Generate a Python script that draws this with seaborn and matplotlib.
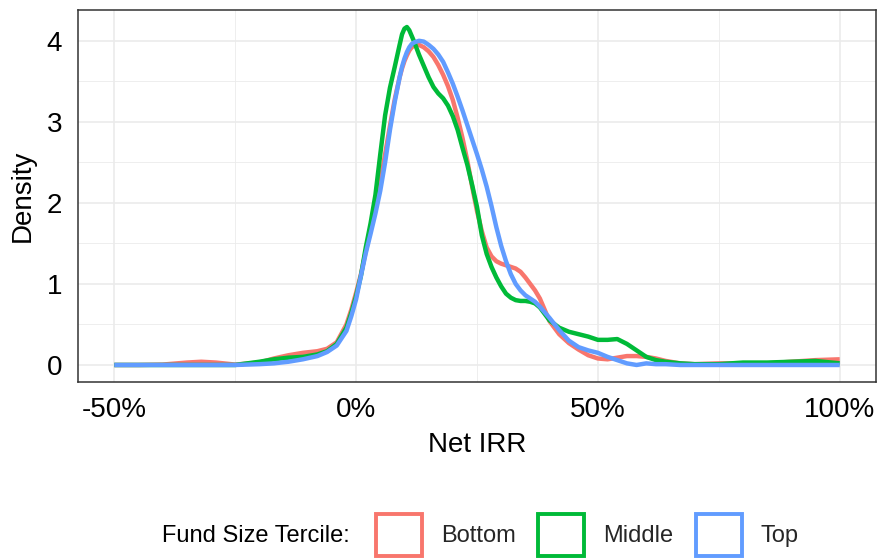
import numpy as np
import pandas as pd
import matplotlib
matplotlib.use("Agg")
import matplotlib.pyplot as plt
import seaborn as sns
from matplotlib.patches import Patch
from matplotlib.ticker import FuncFormatter, MultipleLocator

# ---- data ----
net_irr = [-50, -45, -40, -35, -32, -29, -25, -20, -17, -14, -11, -8, -6, -4, -2, -1,
           0, 1, 2, 3, 4, 5, 6, 7, 8, 9, 9.5, 10, 10.5, 11, 11.5, 12, 13, 14, 15, 16, 17, 18, 19,
           20, 21, 22, 23, 24, 25, 26, 27, 28, 29, 30, 31, 32, 33, 34, 35, 36, 37, 38, 39,
           40, 42, 44, 46, 48, 50, 52, 54, 56, 58, 60, 62, 64, 67, 70, 75, 80, 85, 90, 95, 100]

density_bottom = [0, 0, 0.005, 0.03, 0.04, 0.03, 0.005, 0.03, 0.08, 0.12, 0.15, 0.17, 0.2, 0.28, 0.5, 0.68,
                  0.89, 1.12, 1.4, 1.68, 1.95, 2.25, 2.6, 2.95, 3.28, 3.55, 3.66, 3.75, 3.82, 3.88, 3.92, 3.94, 3.95, 3.92, 3.87, 3.8, 3.7, 3.58, 3.44,
                  3.27, 3.05, 2.8, 2.52, 2.2, 1.9, 1.65, 1.45, 1.34, 1.28, 1.25, 1.23, 1.21, 1.19, 1.15, 1.08, 1.0, 0.92, 0.82, 0.68,
                  0.54, 0.38, 0.27, 0.19, 0.12, 0.08, 0.07, 0.09, 0.11, 0.11, 0.1, 0.08, 0.05, 0.02, 0.01, 0.02, 0.02, 0.02, 0.04, 0.06, 0.07]

density_middle = [0, 0, 0, 0, 0, 0, 0, 0.04, 0.07, 0.09, 0.1, 0.13, 0.17, 0.26, 0.46, 0.64,
                  0.85, 1.1, 1.45, 1.75, 2.1, 2.6, 3.08, 3.42, 3.68, 3.95, 4.08, 4.15, 4.17, 4.13, 4.06, 3.99, 3.83, 3.69, 3.55, 3.43, 3.35, 3.29, 3.2,
                  3.07, 2.9, 2.68, 2.47, 2.22, 1.95, 1.6, 1.37, 1.21, 1.08, 0.97, 0.88, 0.83, 0.8, 0.79, 0.79, 0.78, 0.76, 0.71, 0.63,
                  0.55, 0.46, 0.41, 0.38, 0.35, 0.31, 0.31, 0.32, 0.26, 0.18, 0.1, 0.06, 0.04, 0.02, 0.01, 0.01, 0.03, 0.03, 0.04, 0.05, 0.02]

density_top = [0, 0, 0, 0, 0, 0, 0, 0.01, 0.02, 0.04, 0.07, 0.11, 0.16, 0.24, 0.42, 0.6,
               0.81, 1.1, 1.38, 1.62, 1.87, 2.15, 2.5, 2.9, 3.25, 3.55, 3.68, 3.78, 3.86, 3.92, 3.96, 3.98, 4.0, 3.99, 3.95, 3.9, 3.83, 3.74, 3.61,
               3.47, 3.31, 3.14, 2.96, 2.78, 2.6, 2.41, 2.2, 1.96, 1.7, 1.47, 1.28, 1.12, 1.0, 0.92, 0.86, 0.82, 0.78, 0.72, 0.65,
               0.58, 0.43, 0.3, 0.22, 0.18, 0.15, 0.1, 0.06, 0.02, 0.0, 0.02, 0.01, 0.01, 0, 0, 0, 0, 0, 0, 0, 0]

terciles = ["Bottom", "Middle", "Top"]
colors = ["#F8766D", "#00BA38", "#619CFF"]
x_ticks = [-50, 0, 50, 100]
y_ticks = [0, 1, 2, 3, 4]

df = pd.concat([
    pd.DataFrame({"Net IRR": net_irr, "Density": d, "Tercile": t})
    for d, t in zip([density_bottom, density_middle, density_top], terciles)
], ignore_index=True)

# ---- style ----
sns.set_theme(style="white")
plt.rcParams["font.family"] = ["Liberation Sans", "DejaVu Sans"]
plt.rcParams["axes.unicode_minus"] = False

fig = plt.figure(figsize=(8.8, 5.59), dpi=100)
ax = fig.add_axes([78 / 880, 1 - 382 / 559, (876 - 78) / 880, (382 - 10) / 559])

sns.lineplot(data=df, x="Net IRR", y="Density", hue="Tercile", hue_order=terciles,
             palette=dict(zip(terciles, colors)), linewidth=3.2, legend=False,
             estimator=None, sort=True, ax=ax)
for ln in ax.get_lines():
    ln.set_solid_joinstyle("round")
    ln.set_solid_capstyle("butt")

ax.set_xlim(-57.5, 107.5)
ax.set_ylim(-0.21, 4.38)
ax.set_xticks(x_ticks)
ax.set_yticks(y_ticks)
ax.xaxis.set_minor_locator(MultipleLocator(25))
ax.yaxis.set_minor_locator(MultipleLocator(0.5))
ax.xaxis.set_major_formatter(FuncFormatter(lambda v, p: f"{int(round(v))}%"))
ax.grid(True, which="major", color="#EBEBEB", linewidth=1.2, zorder=0)
ax.grid(True, which="minor", color="#EBEBEB", linewidth=0.6, zorder=0)
ax.set_axisbelow(True)
for s in ax.spines.values():
    s.set_color("#333333")
    s.set_linewidth(1.1)
ax.tick_params(axis="x", which="major", length=5.5, width=1.2, color="#333333",
               labelsize=20, labelcolor="black", pad=5)
ax.tick_params(axis="y", which="major", length=5.5, width=1.2, color="#333333",
               labelsize=20, labelcolor="black", pad=6)
ax.tick_params(axis="both", which="minor", length=0)
ax.set_xlabel("Net IRR", fontsize=20, color="black", labelpad=7)
ax.set_ylabel("Density", fontsize=20, color="black", labelpad=8)

# ---- legend at bottom ----
fig.text(162 / 880, 1 - 536 / 559, "Fund Size Tercile:", fontsize=17,
         ha="left", va="center", color="black")
handles = [Patch(facecolor="white", edgecolor=c, linewidth=2.8) for c in colors]
fig.legend(handles, terciles, loc="center left", bbox_to_anchor=(376 / 880, 1 - 535 / 559),
           ncol=3, frameon=False, fontsize=17, handlelength=1.95, handleheight=2.3,
           handletextpad=0.8, columnspacing=0.95, borderpad=0, borderaxespad=0)

fig.savefig("out.png", dpi=100)
